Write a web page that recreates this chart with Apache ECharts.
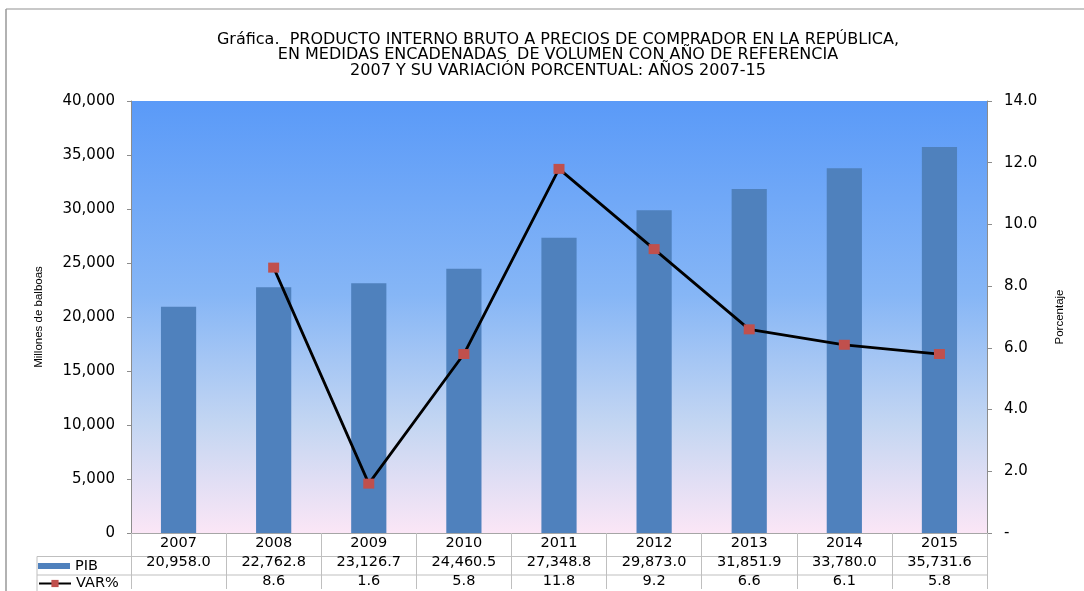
<!DOCTYPE html>
<html>
<head>
<meta charset="utf-8">
<script src="https://cdn.jsdelivr.net/npm/echarts@6/dist/echarts.min.js"></script>
<style>
html,body{margin:0;padding:0;background:#fff;overflow:hidden;}
#c{width:1084px;height:591px;}
</style>
</head>
<body>
<div id="c"></div>
<script>
const categories = ['2007','2008','2009','2010','2011','2012','2013','2014','2015'];
const pib = [20958.0, 22762.8, 23126.7, 24460.5, 27348.8, 29873.0, 31851.9, 33780.0, 35731.6];
const varPct = [null, 8.6, 1.6, 5.8, 11.8, 9.2, 6.6, 6.1, 5.8];
const titleLines = [
  'Gráfica.  PRODUCTO INTERNO BRUTO A PRECIOS DE COMPRADOR EN LA REPÚBLICA,',
  'EN MEDIDAS ENCADENADAS  DE VOLUMEN CON AÑO DE REFERENCIA',
  '2007 Y SU VARIACIÓN PORCENTUAL: AÑOS 2007-15'
];
const leftName = 'Millones de balboas';
const rightName = 'Porcentaje';
const seriesNames = ['PIB', 'VAR%'];

const fmtPib = v => v.toLocaleString('en-US', {minimumFractionDigits:1, maximumFractionDigits:1});
const fmtVar = v => v == null ? '' : v.toFixed(1);

const G = {left:131, right:97, top:101, bottom:56};
const W = 1084, H = 591;
const numFont = 'DejaVu Sans';
const txtFont = 'Liberation Sans';
const gridLine = '#BFBFBF';

const chart = echarts.init(document.getElementById('c'), null, {renderer:'canvas'});
const table = {row2: 556.5, row3: 575, legendLeft: 37};

chart.setOption({
  animation: false,
  backgroundColor: '#fff',
  title: {
    text: titleLines.join('\n'),
    left: 553, textAlign: 'center', top: 27,
    textStyle: {fontFamily: numFont, fontSize: 16, fontWeight: 'normal', color: '#000', lineHeight: 15.5}
  },
  legend: [{
    orient: 'vertical', left: 38, top: 558.5, padding: 0,
    itemWidth: 32, itemHeight: 6,
    textStyle: {fontFamily: numFont, fontSize: 14.5, color: '#000'},
    data: [{name: seriesNames[0], icon: 'rect'}]
  }, {
    orient: 'vertical', left: 38, top: 576, padding: 0,
    itemWidth: 32, itemHeight: 9,
    textStyle: {fontFamily: numFont, fontSize: 14.5, color: '#000'},
    data: [{name: seriesNames[1]}]
  }],
  grid: {left: G.left, right: G.right, top: G.top, bottom: G.bottom, show: true, borderWidth: 0,
    backgroundColor: new echarts.graphic.LinearGradient(0,0,0,1,[
      {offset:0, color:'#5A9AF8'},
      {offset:0.45, color:'#86B6F6'},
      {offset:0.75, color:'#C4D6F2'},
      {offset:1, color:'#FBE6F6'}
    ])},
  xAxis: {
    type: 'category', data: categories, boundaryGap: true,
    axisLine: {lineStyle: {color: '#A6A6A6'}},
    axisTick: {show: true, interval: 0, length: 56, lineStyle: {color: gridLine}},
    axisLabel: {
      interval: 0, margin: 1,
      formatter: (v, i) => '{a|' + v + '}\n{a|' + fmtPib(pib[i]) + '}\n{a|' + fmtVar(varPct[i]) + '}',
      rich: {a: {fontFamily: numFont, fontSize: 14.5, color: '#000', lineHeight: 19, height: 19, align: 'center'}}
    }
  },
  yAxis: [{
    type: 'value', min: 0, max: 40000, interval: 5000,
    name: leftName, nameLocation: 'middle', nameGap: 86, nameRotate: 90,
    nameTextStyle: {fontFamily: txtFont, fontSize: 11.5, color: '#000'},
    axisLine: {show: true, lineStyle: {color: '#8C8C8C'}},
    axisTick: {show: true, length: 4, lineStyle: {color: '#8C8C8C'}},
    splitLine: {show: false},
    axisLabel: {fontFamily: numFont, fontSize: 15, color: '#000', margin: 16,
      formatter: v => v.toLocaleString('en-US')}
  }, {
    type: 'value', min: 0, max: 14, interval: 2, position: 'right',
    name: rightName, nameLocation: 'middle', nameGap: 67, nameRotate: 90,
    nameTextStyle: {fontFamily: txtFont, fontSize: 11.5, color: '#000'},
    axisLine: {show: true, lineStyle: {color: '#8C8C8C'}},
    axisTick: {show: true, length: 5, lineStyle: {color: '#8C8C8C'}},
    splitLine: {show: false},
    axisLabel: {fontFamily: numFont, fontSize: 15, color: '#000', margin: 17,
      formatter: v => v === 0 ? '-' : v.toFixed(1)}
  }],
  series: [{
    name: seriesNames[0], type: 'bar', data: pib, barWidth: '37%',
    itemStyle: {color: '#4F81BD'}
  }, {
    name: seriesNames[1], type: 'line', yAxisIndex: 1, data: varPct,
    symbol: 'rect', symbolSize: [11, 10],
    lineStyle: {color: '#000', width: 2.8},
    itemStyle: {color: '#C0504D', borderWidth: 0},
    z: 5
  }],
  graphic: [
    {type: 'line', shape: {x1: 6, y1: 9, x2: W + 5, y2: 9}, style: {stroke: '#C8C8C8', lineWidth: 2}},
    {type: 'line', shape: {x1: 6, y1: 9, x2: 6, y2: H + 5}, style: {stroke: '#999', lineWidth: 1.5}},
    {type: 'line', shape: {x1: table.legendLeft, y1: table.row2, x2: W - G.right, y2: table.row2}, style: {stroke: gridLine, lineWidth: 1}},
    {type: 'line', shape: {x1: table.legendLeft, y1: table.row3, x2: W - G.right, y2: table.row3}, style: {stroke: gridLine, lineWidth: 1}},
    {type: 'line', shape: {x1: table.legendLeft, y1: table.row2, x2: table.legendLeft, y2: H + 5}, style: {stroke: gridLine, lineWidth: 1}}
  ]
});
</script>
</body>
</html>
